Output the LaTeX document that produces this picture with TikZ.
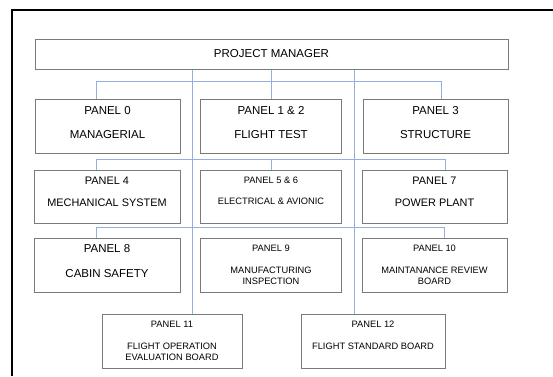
\documentclass[tikz,border=0pt]{standalone}
\usepackage{fontspec}
\setmainfont{Liberation Sans}
\definecolor{boxgray}{HTML}{7A7A7A}
\definecolor{linkblue}{HTML}{93AEE0}
\tikzset{
  panel/.style={draw=boxgray, line width=1pt, inner sep=0pt, minimum height=54pt},
  big/.style={font=\fontsize{11.5}{13}\selectfont},
  mid/.style={font=\fontsize{10.9}{13}\selectfont},
  small/.style={font=\fontsize{9.3}{11}\selectfont},
  link/.style={draw=linkblue, line width=0.9pt}
}
\begin{document}
\begin{tikzpicture}[x=1pt,y=-1pt]
  \useasboundingbox (0,0) rectangle (553,376);
  % frame
  \draw[line width=1.6pt] (12,376) -- (12,10) -- (553,10);

  % boxes
  \node[panel, minimum width=473pt, minimum height=30pt] (pm) at (271.5,54) {};
  \node[panel, minimum width=145pt] (p0) at (107.5,126) {};
  \node[panel, minimum width=141pt] (p1) at (271,126) {};
  \node[panel, minimum width=145pt] (p3) at (435.5,126) {};
  \node[panel, minimum width=146pt, minimum height=53pt] (p4) at (107,196.5) {};
  \node[panel, minimum width=141pt, minimum height=53pt] (p5) at (271,196.5) {};
  \node[panel, minimum width=145pt, minimum height=53pt] (p7) at (434.5,196.5) {};
  \node[panel, minimum width=146pt] (p8) at (107,265) {};
  \node[panel, minimum width=141pt] (p9) at (271,265) {};
  \node[panel, minimum width=145pt] (p10) at (434.5,265) {};
  \node[panel, minimum width=140pt] (p11) at (172,341) {};
  \node[panel, minimum width=144pt] (p12) at (373,341) {};

  % texts
  \node[big] (tpm) at (pm.center) {PROJECT MANAGER};
  \node[big] (t0a) at (107.5,111) {PANEL 0};
  \node[big] (t0b) at (107.5,135) {MANAGERIAL};
  \node[big] (t1a) at (271,111) {PANEL 1 \& 2};
  \node[big] (t1b) at (271,135) {FLIGHT TEST};
  \node[big] (t3a) at (435.5,111) {PANEL 3};
  \node[big] (t3b) at (435.5,135) {STRUCTURE};
  \node[mid] (t4a) at (107,181) {PANEL 4};
  \node[mid] (t4b) at (107,202.5) {MECHANICAL SYSTEM};
  \node[small] (t5a) at (271,180) {PANEL 5 \& 6};
  \node[small] (t5b) at (271,201) {ELECTRICAL \& AVIONIC};
  \node[mid] (t7a) at (434.5,181) {PANEL 7};
  \node[mid] (t7b) at (434.5,203) {POWER PLANT};
  \node[big] (t8a) at (107,249) {PANEL 8};
  \node[big] (t8b) at (107,274) {CABIN SAFETY};
  \node[small] (t9a) at (271,248) {PANEL 9};
  \node[small, align=center] (t9b) at (271,275.5) {MANUFACTURING\\INSPECTION};
  \node[small] (t10a) at (434.5,248) {PANEL 10};
  \node[small, align=center] (t10b) at (434.5,275.5) {MAINTANANCE REVIEW\\BOARD};
  \node[small] (t11a) at (172,324) {PANEL 11};
  \node[small, align=center] (t11b) at (172,351.5) {FLIGHT OPERATION\\EVALUATION BOARD};
  \node[small] (t12a) at (373,324) {PANEL 12};
  \node[small] (t12b) at (373,346) {FLIGHT STANDARD BOARD};

  % bus points
  \coordinate (trl) at (192,0);
  \coordinate (trr) at (354,0);
  \coordinate (a1) at (96,81);   \coordinate (b1) at (441,81);
  \coordinate (a2) at (96,159);  \coordinate (b2) at (445,159);
  \coordinate (a3) at (96,227);  \coordinate (b3) at (444,227);

  % connectors
  \draw[link] (pm.south -| trl) -- (p11.north -| trl);
  \draw[link] (pm.south -| trr) -- (p12.north -| trr);
  \draw[link] (pm.south -| p1.north) -- (p1.north);
  \draw[link] (p0.north -| a1) -- (a1) -- (b1) -- (p3.north -| b1);
  \draw[link] (p4.north -| a2) -- (a2) -- (b2) -- (p7.north -| b2);
  \draw[link] (a2 -| p5.north) -- (p5.north);
  \draw[link] (p8.north -| a3) -- (a3) -- (b3) -- (p10.north -| b3);
\end{tikzpicture}
\end{document}
